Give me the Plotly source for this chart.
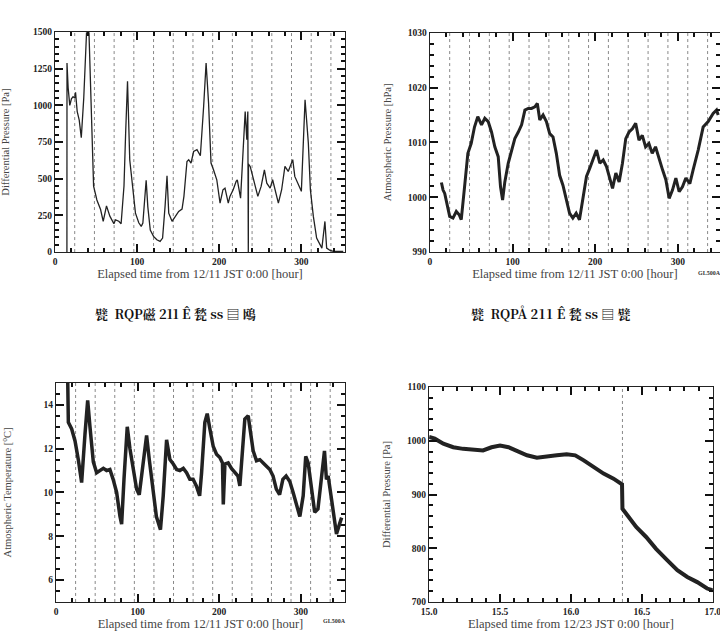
import plotly.graph_objects as go

# ---------------- data ----------------
# Panel 1: differential pressure [Pa] vs elapsed hours from 12/11
dp_hour = [14.5, 14.6, 16, 18, 20, 22, 24, 25, 27, 29.5, 32, 35, 38.5, 40, 41.3, 43, 45, 47, 51, 55.5, 58.7,
           62.7, 66.8, 71.7, 73.7, 77.7, 80.5, 84, 86, 88.3, 91, 94, 98, 102, 105, 107, 111, 113, 116, 120,
           124, 128, 131, 134, 136.4, 138.5, 142.5, 146.6, 150.6, 154.7, 157, 160.7, 162.8, 165.6, 168.8,
           172.9, 177, 181, 184, 187, 190, 193, 197, 201, 204.5, 207, 211, 213, 217, 220.6, 222, 226,
           229.5, 231.6, 233.6, 234.8, 235.4, 235.6, 237.7, 240.5, 243.7, 247, 251, 255, 257.9, 262, 265,
           268, 272, 276, 280, 284, 289.5, 292, 297, 300, 304.5, 308.5, 311, 314.6, 318.6, 322.7, 325,
           328.7, 330.8, 335, 339, 351]
dp_val = [0, 1290, 1120, 1000, 1045, 1060, 1050, 1090, 960, 900, 780, 1050, 1510, 1600, 1510, 1150, 800, 450,
          355, 290, 210, 315, 245, 193, 220, 210, 193, 450, 810, 1165, 630, 450, 265, 200, 175, 198, 490,
          310, 150, 107, 84, 73, 95, 310, 520, 265, 210, 243, 277, 293, 380, 618, 630, 607, 686, 698, 657,
          993, 1290, 1016, 607, 561, 493, 334, 425, 436, 334, 380, 425, 482, 493, 368, 720, 959, 766, 959,
          0, 600, 584, 527, 459, 380, 448, 561, 470, 436, 493, 425, 334, 425, 584, 550, 630, 516, 448,
          414, 1039, 743, 425, 243, 95, 50, 27, 209, 27, 11, 5, 5]

# Panel 2: atmospheric pressure [hPa]
ap_hour = [14, 16, 18, 21, 24, 28, 32, 35.5, 38, 42, 46, 50, 54, 58, 62.5, 66.5, 70.6, 74.6, 78.6, 82.7,
           85.5, 88, 90.7, 94.8, 98.8, 102.8, 107, 111, 115, 119, 123, 127, 130, 133, 137, 141, 145, 149,
           153, 157, 161, 165, 169, 173, 177, 181, 185.5, 189.5, 193.5, 197.6, 201.6, 205.6, 209.7, 213.7,
           217.7, 221, 225, 229, 233, 237, 241, 245, 249, 253, 257, 261, 265, 269, 273, 277, 281.5, 285.5,
           289.5, 293.5, 297.6, 301.6, 305.6, 309.7, 314.5, 318.5, 324.6, 330.6, 336.7, 342.7, 346.8, 348.8]
ap_val = [1002.7, 1001.3, 1000.7, 998.3, 996.5, 996.2, 997.4, 996.8, 995.9, 1001.9, 1008, 1009.8, 1012.8,
          1014.7, 1013.2, 1014.4, 1013.8, 1011.9, 1009.2, 1007.4, 1001.9, 999.5, 1002.8, 1006.2, 1008.6,
          1010.7, 1011.9, 1013.2, 1015.9, 1016.2, 1016.2, 1016.5, 1017.1, 1014.1, 1015, 1013.8, 1011.6,
          1011, 1008, 1004, 1002.2, 999.8, 997.1, 996.2, 997.1, 995.9, 1000.1, 1003.8, 1005.3, 1006.8,
          1008.6, 1006.2, 1006.8, 1005.6, 1003.2, 1001.6, 1004.4, 1002.8, 1006.2, 1010.7, 1011.9, 1012.5,
          1013.5, 1010.4, 1011.3, 1009.2, 1009.8, 1008, 1009.2, 1007.1, 1005, 1003.2, 999.8, 1001.3,
          1003.5, 1001, 1001.9, 1003.5, 1002.5, 1005, 1008.6, 1012.8, 1013.8, 1015.3, 1015.9, 1015]

# Panel 3: atmospheric temperature [degC]
at_hour = [14.2, 15.1, 19.2, 23.3, 27.3, 31.4, 35.5, 38.8, 41.6, 45.7, 49.8, 53.9, 58, 62, 66, 70, 74.3,
           78.4, 80.4, 83.3, 87.3, 90.6, 94.7, 98.8, 102, 105, 111, 114.3, 119, 123, 128, 131.4, 135.5,
           139.6, 143.7, 147.8, 151.8, 156, 160, 164, 168, 172, 176, 178.4, 182.4, 185.3, 188.6, 192.7,
           196.7, 200.8, 204, 205, 207, 211, 215, 219, 223, 225.3, 227.3, 231.4, 235.5, 237.6, 241.6,
           245.7, 249.8, 253.9, 258, 262, 266, 270, 274, 278, 282, 286.5, 290.6, 294.7, 298.8, 302.9,
           306, 309, 313, 317, 321, 325, 329, 331.4, 333.5, 337.6, 341.6, 343.7, 347.8, 350]
at_val = [15.5, 13.2, 12.9, 12.35, 11.5, 10.45, 12.66, 14.2, 13.0, 11.4, 10.9, 11.0, 11.1, 11.0, 11.05,
          10.6, 10.0, 8.9, 8.55, 10.6, 13.0, 12.0, 11.05, 10.15, 9.9, 10.9, 12.6, 11.5, 10.0, 8.9, 8.3,
          9.85, 12.4, 11.5, 11.3, 11.05, 11.0, 11.1, 10.9, 10.6, 10.6, 10.3, 9.85, 10.9, 13.2, 13.6,
          12.9, 12.1, 11.75, 11.6, 11.35, 9.45, 11.3, 11.35, 11.1, 10.9, 10.75, 10.3, 11.2, 13.35, 13.5,
          12.9, 11.9, 11.45, 11.5, 11.35, 11.2, 11.05, 10.75, 10.15, 9.9, 10.6, 10.75, 10.5, 10.0, 9.4,
          8.9, 9.85, 11.65, 11.35, 10.15, 9.1, 9.25, 10.75, 11.9, 10.6, 10.75, 9.7, 8.45, 8.1, 8.6, 8.85]

# Panel 4: differential pressure [Pa] vs hours from 12/23
dp2_hour = [15.0, 15.04, 15.1, 15.17, 15.24, 15.31, 15.38, 15.44, 15.5, 15.56, 15.62, 15.69, 15.76, 15.83,
            15.9, 15.97, 16.03, 16.09, 16.16, 16.23, 16.3, 16.36, 16.363, 16.39, 16.46, 16.53, 16.6, 16.68,
            16.75, 16.82, 16.89, 16.96, 17.0]
dp2_val = [1007, 1004, 994.6, 988, 985, 983, 982, 988, 991, 988, 981, 973, 968.5, 970, 973, 975, 973, 963.6,
           951, 939, 929.5, 919, 873.6, 864, 839.5, 821, 799, 777.5, 759, 746.5, 737, 725, 721.7]

day_marks = [24, 48, 72, 96, 120, 144, 168, 192, 216, 240, 264, 288, 312, 336]
event_mark = [16.363]

y_titles = ["Differential Pressure [Pa]", "Atmospheric Pressure [hPa]",
            "Atmospheric Temperature [<sup>o</sup>C]", "Differential Pressure [Pa]"]
x_title_a = "Elapsed time from 12/11 JST 0:00 [hour]"
x_title_b = "Elapsed time from 12/23 JST 0:00 [hour]"
captions = ["甓  RQP磁 211 Ê 甃 ss ▤ 鴎", "甓  RQPÅ 211 Ê 甃 ss ▤ 甓"]
stamp = "GL500A"

# ---------------- figure ----------------
LINE = "#222222"
fig = go.Figure()
fig.add_trace(go.Scatter(x=dp_hour, y=dp_val, mode="lines", line=dict(color=LINE, width=1.3),
                         xaxis="x", yaxis="y", showlegend=False))
fig.add_trace(go.Scatter(x=ap_hour, y=ap_val, mode="lines", line=dict(color=LINE, width=3),
                         xaxis="x2", yaxis="y2", showlegend=False))
fig.add_trace(go.Scatter(x=at_hour, y=at_val, mode="lines", line=dict(color=LINE, width=3.5),
                         xaxis="x3", yaxis="y3", showlegend=False))
fig.add_trace(go.Scatter(x=dp2_hour, y=dp2_val, mode="lines", line=dict(color=LINE, width=4),
                         xaxis="x4", yaxis="y4", showlegend=False))

tickfont = dict(family="Liberation Serif", size=9.5, color="#222", weight="bold")
TICK = "#111111"


def axis(domain, rng, dtick, minor, anchor, title, title_size, standoff, tick0, fmt=None):
    d = dict(domain=domain, range=rng, anchor=anchor, dtick=dtick, tick0=tick0,
             ticks="inside", ticklen=8, tickwidth=2, tickcolor=TICK, mirror="ticks",
             showline=True, linecolor="#222", linewidth=1.3, showgrid=False,
             tickfont=tickfont, ticklabeloverflow="allow",
             minor=dict(dtick=minor, ticks="inside", ticklen=4, tickwidth=1.5, tickcolor=TICK),
             title=dict(text=title, font=dict(family="Liberation Serif", size=title_size, color="#444"),
                        standoff=standoff))
    if fmt:
        d["tickformat"] = fmt
    return d


fig.update_layout(
    width=720, height=643, margin=dict(l=0, r=0, t=0, b=0, autoexpand=False),
    paper_bgcolor="white", plot_bgcolor="white",
    xaxis=axis([0.0764, 0.479], [0, 353], 100, 20, "y", x_title_a, 12.5, 2, 0),
    yaxis=axis([0.608, 0.950], [0, 1500], 250, 50, "x", y_titles[0], 10.5, 24, 0),
    xaxis2=axis([0.597, 1.0], [0, 351], 100, 20, "y2", x_title_a, 12.5, 2, 0),
    yaxis2=axis([0.608, 0.949], [990, 1030], 10, 2, "x2", y_titles[1], 10.5, 14, 990),
    xaxis3=axis([0.0778, 0.479], [0, 354], 100, 20, "y3", x_title_a, 12.5, 2, 0),
    yaxis3=axis([0.0638, 0.4044], [5, 15], 2, 0.5, "x3", y_titles[2], 10.5, 34, 6),
    xaxis4=axis([0.596, 0.990], [15, 17], 0.5, 0.1, "y4", x_title_b, 12.5, 2, 15, fmt=".1f"),
    yaxis4=axis([0.0638, 0.398], [700, 1100], 100, 20, "x4", y_titles[3], 10.5, 14, 700),
)
for name in ["xaxis", "yaxis", "xaxis2", "yaxis2", "xaxis3", "yaxis3", "xaxis4", "yaxis4"]:
    fig.layout[name].zeroline = False

shapes = []
for ax in ["x", "x2", "x3"]:
    for h in day_marks:
        shapes.append(dict(type="line", xref=ax, yref=ax.replace("x", "y") + " domain", x0=h, x1=h, y0=0, y1=1,
                           line=dict(color="#888", width=1, dash="dot"), layer="below"))
for h in event_mark:
    shapes.append(dict(type="line", xref="x4", yref="y4 domain", x0=h, x1=h, y0=0, y1=1,
                       line=dict(color="#888", width=1, dash="dot"), layer="below"))
fig.update_layout(shapes=shapes)

capfont = dict(family="Noto Serif CJK SC, Liberation Serif, serif", size=13, color="#111", weight="bold")
annotations = [
    dict(text=captions[0], x=175 / 720, y=1 - 313 / 643, xref="paper", yref="paper",
         showarrow=False, xanchor="center", yanchor="middle", font=capfont),
    dict(text=captions[1], x=550 / 720, y=1 - 313 / 643, xref="paper", yref="paper",
         showarrow=False, xanchor="center", yanchor="middle", font=capfont),
    dict(text=stamp, x=709 / 720, y=1 - 273 / 643, xref="paper", yref="paper", showarrow=False,
         xanchor="center", font=dict(family="Liberation Serif", size=6, color="#333", weight="bold")),
    dict(text=stamp, x=334 / 720, y=1 - 626 / 643, xref="paper", yref="paper", showarrow=False,
         xanchor="center", font=dict(family="Liberation Serif", size=6, color="#333", weight="bold")),
]
fig.update_layout(annotations=annotations)

fig.write_html("out.html")
